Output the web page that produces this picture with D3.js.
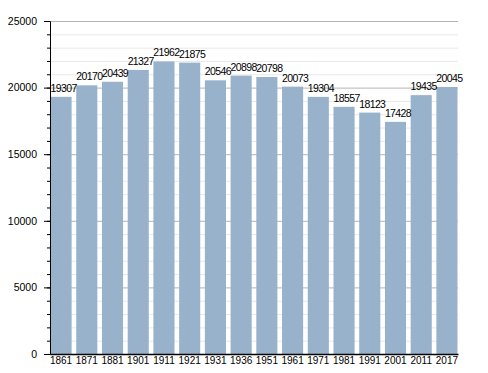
<!DOCTYPE html>
<html>
<head>
<meta charset="utf-8">
<script src="https://cdn.jsdelivr.net/npm/d3@7"></script>
<style>
  body { margin: 0; background: #fff; }
  text { font-family: "Liberation Sans", Arial, sans-serif; }
</style>
</head>
<body>
<div id="chart"></div>
<script>
// census years and population
const years = ['1861', '1871', '1881', '1901', '1911', '1921', '1931', '1936',
  '1951', '1961', '1971', '1981', '1991', '2001', '2011', '2017'];
const population = [19307, 20170, 20439, 21327, 21962, 21875, 20546, 20898,
  20798, 20073, 19304, 18557, 18123, 17428, 19435, 20045];
const majorTicks = [0, 5000, 10000, 15000, 20000, 25000];

const width = 488, height = 373;
const margin = { top: 21, right: 30, bottom: 19, left: 50 };
const font = '"Liberation Sans", Arial, sans-serif';

const svg = d3.select('#chart').append('svg')
  .attr('width', width)
  .attr('height', height);

const x = d3.scaleBand()
  .domain(years)
  .range([margin.left, width - margin.right])
  .paddingInner(0.18)
  .paddingOuter(0.02);

const y = d3.scaleLinear()
  .domain([0, 25000])
  .range([height - margin.bottom, margin.top]);

const minorTicks = d3.range(0, 25001, 1000);

// minor grid
svg.append('g')
  .selectAll('line')
  .data(minorTicks.filter(d => d % 5000 !== 0))
  .join('line')
  .attr('x1', margin.left).attr('x2', width - margin.right)
  .attr('y1', d => y(d) + 0.5).attr('y2', d => y(d) + 0.5)
  .attr('stroke', '#e8e8e8');

// major grid
svg.append('g')
  .selectAll('line')
  .data(majorTicks.filter(d => d > 0))
  .join('line')
  .attr('x1', margin.left).attr('x2', width - margin.right)
  .attr('y1', d => y(d) + 0.5).attr('y2', d => y(d) + 0.5)
  .attr('stroke', '#b4b4b4');

// bars
svg.append('g')
  .selectAll('rect')
  .data(population)
  .join('rect')
  .attr('x', (d, i) => x(years[i]))
  .attr('y', d => y(d))
  .attr('width', x.bandwidth())
  .attr('height', d => y(0) - y(d))
  .attr('fill', '#98b2cc');

// value labels
svg.append('g')
  .selectAll('text')
  .data(population)
  .join('text')
  .attr('x', (d, i) => x(years[i]) + x.bandwidth() / 2 + 2.5)
  .attr('y', d => y(d) - 5)
  .attr('text-anchor', 'middle')
  .attr('font-size', 10.5)
  .attr('letter-spacing', -0.6)
  .attr('fill', '#000')
  .text(d => d);

// y axis with minor ticks
const yAxis = svg.append('g')
  .attr('transform', `translate(${margin.left},0)`);
yAxis.append('g')
  .call(d3.axisLeft(y).tickValues(minorTicks).tickSize(3).tickFormat(''))
  .call(g => g.select('.domain').remove());
yAxis.append('g')
  .call(d3.axisLeft(y).tickValues(majorTicks).tickSize(6).tickPadding(7).tickFormat(d3.format('d')))
  .call(g => g.selectAll('text').attr('font-size', 10.5).attr('fill', '#000').style('font-family', font));
yAxis.selectAll('path.domain').attr('stroke', '#000');
yAxis.selectAll('line').attr('stroke', '#000');

// x axis
svg.append('g')
  .attr('transform', `translate(0,${y(0)})`)
  .call(d3.axisBottom(x).tickSize(0).tickPadding(3).tickSizeOuter(0))
  .call(g => g.select('.domain').attr('stroke', '#000').attr('stroke-width', 1.5))
  .call(g => g.selectAll('text').attr('font-size', 10).attr('fill', '#000').style('font-family', font));
</script>
</body>
</html>
